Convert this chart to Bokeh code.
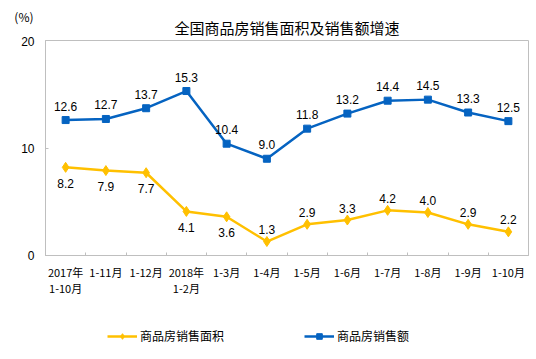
from bokeh.plotting import figure
from bokeh.models import (ColumnDataSource, LabelSet, Label, Range1d, FixedTicker,
                          Legend, LegendItem)
from bokeh.layouts import column
from bokeh.core.properties import value
from bokeh.embed import file_html
from bokeh.resources import INLINE

categories = ["2017年\n1-10月", "1-11月", "1-12月", "2018年\n1-2月", "1-3月", "1-4月",
              "1-5月", "1-6月", "1-7月", "1-8月", "1-9月", "1-10月"]
area_growth = [8.2, 7.9, 7.7, 4.1, 3.6, 1.3, 2.9, 3.3, 4.2, 4.0, 2.9, 2.2]
sales_growth = [12.6, 12.7, 13.7, 15.3, 10.4, 9.0, 11.8, 13.2, 14.4, 14.5, 13.3, 12.5]
y_ticks = [0, 10, 20]
title_text = "全国商品房销售面积及销售额增速"
unit_text = "(%)"
area_name = "商品房销售面积"
sales_name = "商品房销售额"

BLUE = "#0563C1"
YELLOW = "#FFC000"
GRAY = "#BFBFBF"
CJK = "Noto Sans CJK SC"
LAT = "Liberation Sans"
W = 530
FL, FR = 45, 528          # frame left / right in page pixels

n = len(categories)
xs = [i + 0.5 for i in range(n)]

src = ColumnDataSource(dict(x=xs, area=area_growth, sales=sales_growth,
                            sales_lbl=[f"{v:.1f}" for v in sales_growth]))


def strip(height, yaxis=False):
    f = figure(width=W, height=height, output_backend="svg", toolbar_location=None,
               x_range=Range1d(FL, FR), y_range=Range1d(0, height),
               x_axis_location=None, y_axis_location="left" if yaxis else None,
               min_border_left=FL, min_border_right=W - FR, min_border_top=0,
               min_border_bottom=0)
    f.outline_line_color = None
    f.xgrid.visible = False
    f.ygrid.visible = False
    f.background_fill_color = "white"
    f.border_fill_color = "white"
    return f


# ---- title strip (unit shown as the strip's own axis label) ----
TOP_H = 36
top = strip(TOP_H, yaxis=True)
unit_y = TOP_H - 16
top.yaxis.ticker = FixedTicker(ticks=[unit_y])
top.yaxis.major_label_overrides = {unit_y: unit_text}
top.yaxis.axis_line_color = None
top.yaxis.major_tick_line_color = None
top.yaxis.minor_tick_line_color = None
top.yaxis.major_label_standoff = 6
top.yaxis.major_label_text_font = CJK
top.yaxis.major_label_text_font_size = "12px"
top.yaxis.major_label_text_color = "#000000"
top.add_layout(Label(x=(FL + FR) / 2, y=TOP_H - 26.5, text=title_text, text_align="center",
                     text_baseline="middle", text_font=CJK, text_font_size="15px",
                     text_color="#000000"))

# ---- main chart ----
p = figure(width=W, height=277, output_backend="svg", toolbar_location=None,
           x_range=Range1d(0, n), y_range=Range1d(0, 20),
           min_border_left=FL, min_border_right=W - FR, min_border_top=4,
           min_border_bottom=58)
p.background_fill_color = "white"
p.border_fill_color = "white"
p.outline_line_color = GRAY
p.xgrid.visible = False
p.ygrid.visible = False

p.xaxis.ticker = FixedTicker(ticks=xs, minor_ticks=list(range(n + 1)))
p.xaxis.major_label_overrides = {x: c for x, c in zip(xs, categories)}
p.xaxis.major_tick_line_color = None
p.xaxis.minor_tick_in = 3
p.xaxis.minor_tick_out = 0
p.xaxis.minor_tick_line_color = GRAY
p.xaxis.axis_line_color = GRAY
p.xaxis.major_label_text_font = CJK
p.xaxis.major_label_text_font_size = "11px"
p.xaxis.major_label_text_color = "#000000"
p.xaxis.major_label_text_line_height = 1.0
p.xaxis.major_label_standoff = 2

p.yaxis.ticker = FixedTicker(ticks=y_ticks)
p.yaxis.major_tick_in = 3
p.yaxis.major_tick_out = 0
p.yaxis.minor_tick_line_color = None
p.yaxis.axis_line_color = GRAY
p.yaxis.major_tick_line_color = GRAY
p.yaxis.major_label_text_font = LAT
p.yaxis.major_label_text_font_size = "12px"
p.yaxis.major_label_text_color = "#000000"
p.yaxis.major_label_standoff = 11

p.line("x", "area", source=src, line_color=YELLOW, line_width=2.5)
p.scatter("x", "area", source=src, marker="diamond", size=10,
          fill_color=YELLOW, line_color=YELLOW)
p.line("x", "sales", source=src, line_color=BLUE, line_width=2.5)
p.scatter("x", "sales", source=src, marker="square", size=7,
          fill_color=BLUE, line_color=BLUE)

p.add_layout(LabelSet(x="x", y="sales", text="sales_lbl", source=src, y_offset=14,
                      text_align="center", text_baseline="middle",
                      text_font=value(LAT), text_font_size="12px", text_color="#000000"))
below_idx = [i for i in range(n) if i < 5]
above_idx = [i for i in range(n) if i >= 5]
for idxs, off in ((below_idx, -16), (above_idx, 12)):
    sub = ColumnDataSource(dict(x=[xs[i] for i in idxs],
                                y=[area_growth[i] for i in idxs],
                                t=[f"{area_growth[i]:.1f}" for i in idxs]))
    p.add_layout(LabelSet(x="x", y="y", text="t", source=sub, y_offset=off,
                          text_align="center", text_baseline="middle",
                          text_font=value(LAT), text_font_size="12px", text_color="#000000"))

# ---- legend strip (same series, drawn off-frame so only the legend shows) ----
BOT_H = 43
bot = strip(BOT_H)
la = bot.line("x", "area", source=src, line_color=YELLOW, line_width=2.5)
lb = bot.scatter("x", "area", source=src, marker="diamond", size=10,
                 fill_color=YELLOW, line_color=YELLOW)
lc = bot.line("x", "sales", source=src, line_color=BLUE, line_width=2.5)
ld = bot.scatter("x", "sales", source=src, marker="square", size=7,
                 fill_color=BLUE, line_color=BLUE)
legend = Legend(items=[LegendItem(label=area_name, renderers=[la, lb]),
                       LegendItem(label=sales_name, renderers=[lc, ld])],
                location=(107 - FL, 12), orientation="horizontal",
                glyph_width=30, glyph_height=14, label_height=14, label_standoff=3,
                spacing=80, padding=0, margin=0, border_line_color=None,
                background_fill_alpha=0, label_text_font=CJK,
                label_text_font_size="12px", label_text_color="#000000")
bot.add_layout(legend, "center")

layout = column(top, p, bot, spacing=0)
open("out.html", "w").write(file_html(layout, INLINE))
